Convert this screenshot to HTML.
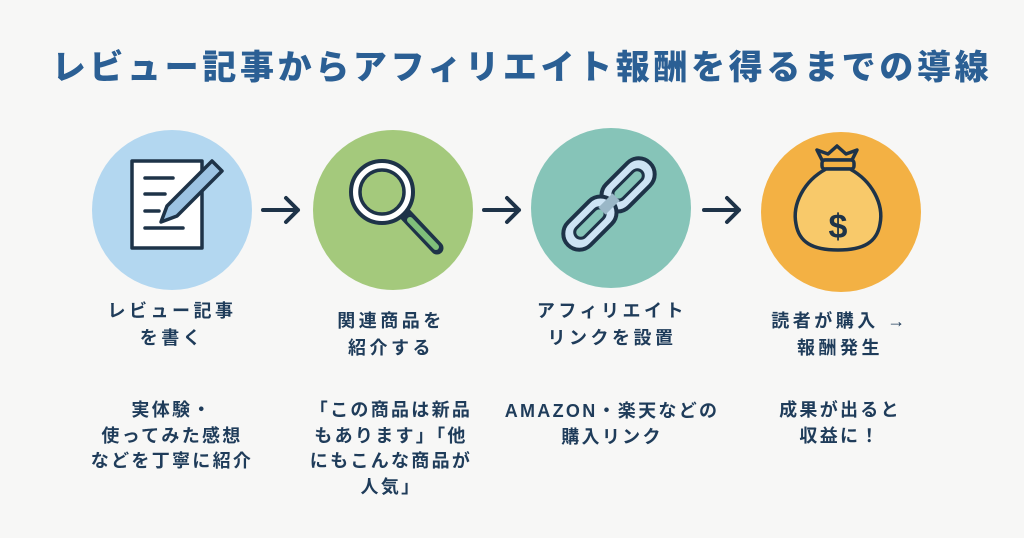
<!DOCTYPE html>
<html><head><meta charset="utf-8"><style>
body{margin:0;width:1024px;height:538px;background:#f7f7f6;overflow:hidden;position:relative;font-family:"Liberation Sans","Noto Sans CJK JP",sans-serif;font-weight:bold}
.t{position:absolute;left:10px;width:1024px;top:40px;text-align:center;font-size:34px;color:#2b5f94;letter-spacing:3.65px;font-weight:900}
.c{position:absolute;border-radius:50%;width:160px;height:160px}
.l{position:absolute;width:240px;text-align:center;color:#1f3c5a;font-size:18px;letter-spacing:3.5px;line-height:27px}
.d{position:absolute;width:240px;text-align:center;color:#1f3c5a;font-size:18px;letter-spacing:2.3px;line-height:25.5px}
svg{position:absolute}
</style></head><body>
<div class="t">レビュー記事からアフィリエイト報酬を得るまでの導線</div>
<div class="c" style="left:92px;top:130px;background:#b3d7f0"></div>
<div class="c" style="left:313px;top:130px;background:#a4c97c"></div>
<div class="c" style="left:531px;top:128px;background:#86c4b8"></div>
<div class="c" style="left:761px;top:132px;background:#f3b144"></div>
<svg width="1024" height="538" style="left:0;top:0">
<g fill="none" stroke="#1e3348" stroke-width="4" stroke-linecap="round" stroke-linejoin="round">
<path d="M263 210h35M286 198l12 12-12 12"/>
<path d="M484 210h35M507 198l12 12-12 12"/>
<path d="M704 210h35M727 198l12 12-12 12"/>
<rect x="132" y="161" width="70" height="87" fill="#fff" stroke-width="3.5"/>
<path d="M145 178h28M145 194h20M145 211h14M145 228h38" stroke-width="3.5"/>
<path d="M212 161l10 10-45 45-16 6 6-16z" fill="#9cc3e3" stroke-width="3.5"/>
<path d="M405 214l32 34" stroke="#1e3348" stroke-width="13"/>
<path d="M410 220l26 27" stroke="#7fbf7a" stroke-width="6"/>
<circle cx="382" cy="192" r="31" fill="#fff" stroke-width="4"/>
<circle cx="382" cy="192" r="22" fill="#a4c97c" stroke-width="3.5"/>
<g transform="translate(609 204) rotate(-45)">
<rect x="-4" y="-16" width="62" height="32" rx="16" fill="#cde3f4" stroke-width="4"/>
<rect x="8" y="-6" width="38" height="12" rx="6" fill="#86c4b8" stroke-width="3"/>
<rect x="-58" y="-16" width="62" height="32" rx="16" fill="#cde3f4" stroke-width="4"/>
<rect x="-46" y="-6" width="38" height="12" rx="6" fill="#86c4b8" stroke-width="3"/>
<rect x="-10" y="-5" width="20" height="10" fill="#9ab7c7" stroke="none"/>
</g>
<path d="M822 160l-5-10 11 4 9-8 9 8 11-4-5 10z" fill="#f3b144" stroke-width="3.5"/>
<rect x="822" y="160" width="32" height="9" rx="3" fill="#f3b144" stroke-width="3.5"/>
<path d="M826 169c-22 12-34 35-30 55 3 18 16 26 42 26s39-8 42-26c4-20-8-43-30-55z" fill="#f8c96a" stroke-width="3.5"/>
<text x="838" y="238" text-anchor="middle" font-size="34" font-family="Liberation Sans" font-weight="bold" fill="#1e3348" stroke="none">$</text>
</g></svg>
<div class="l" style="left:52px;top:298px">レビュー記事<br>を書く</div>
<div class="l" style="left:271px;top:308px">関連商品を<br>紹介する</div>
<div class="l" style="left:492px;top:298px">アフィリエイト<br>リンクを設置</div>
<div class="l" style="left:720px;top:308px">読者が購入 →<br>報酬発生</div>
<div class="d" style="left:52px;top:398px">実体験・<br>使ってみた感想<br>などを丁寧に紹介</div>
<div class="d" style="left:271px;top:398px">「この商品は新品<br>もあります」「他<br>にもこんな商品が<br>人気」</div>
<div class="d" style="left:482px;top:399px;width:260px">AMAZON・楽天などの<br>購入リンク</div>
<div class="d" style="left:720px;top:398px">成果が出ると<br>収益に！</div>
</body></html>
